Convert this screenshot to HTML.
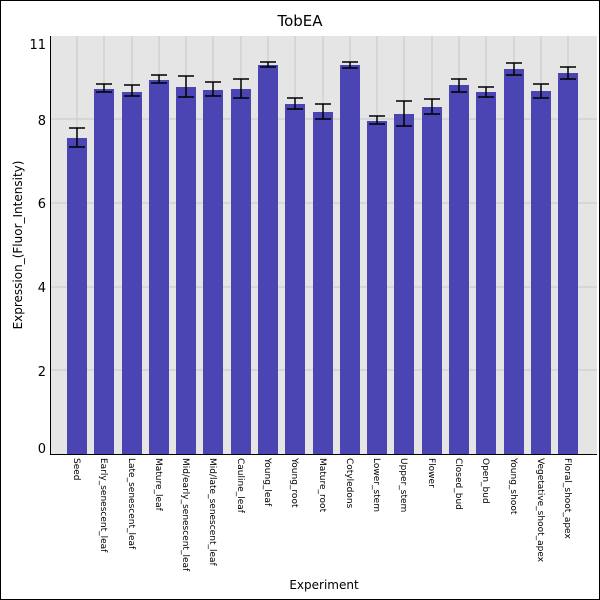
<!DOCTYPE html>
<html><head><style>body{margin:0;background:#fff}svg{display:block;font-family:"DejaVu Sans","Liberation Sans",sans-serif}</style></head><body>
<svg width="600" height="600" viewBox="0 0 600 600" xmlns="http://www.w3.org/2000/svg">
<rect x="0.5" y="0.5" width="599" height="599" fill="#fff" stroke="#000"/>
<text x="300" y="26" font-size="15" text-anchor="middle">TobEA</text>
<rect x="51" y="36" width="546" height="419" fill="#e5e5e5"/>
<g stroke="#c8c8c8" stroke-width="1">
<line x1="51" x2="597" y1="370" y2="370"/><line x1="51" x2="597" y1="287" y2="287"/><line x1="51" x2="597" y1="203" y2="203"/><line x1="51" x2="597" y1="119" y2="119"/>
<line x1="77" x2="77" y1="36" y2="455"/><line x1="104" x2="104" y1="36" y2="455"/><line x1="132" x2="132" y1="36" y2="455"/><line x1="159" x2="159" y1="36" y2="455"/><line x1="186" x2="186" y1="36" y2="455"/><line x1="213" x2="213" y1="36" y2="455"/><line x1="241" x2="241" y1="36" y2="455"/><line x1="268" x2="268" y1="36" y2="455"/><line x1="295" x2="295" y1="36" y2="455"/><line x1="323" x2="323" y1="36" y2="455"/><line x1="350" x2="350" y1="36" y2="455"/><line x1="377" x2="377" y1="36" y2="455"/><line x1="404" x2="404" y1="36" y2="455"/><line x1="432" x2="432" y1="36" y2="455"/><line x1="459" x2="459" y1="36" y2="455"/><line x1="486" x2="486" y1="36" y2="455"/><line x1="514" x2="514" y1="36" y2="455"/><line x1="541" x2="541" y1="36" y2="455"/><line x1="568" x2="568" y1="36" y2="455"/>
</g>
<g fill="#4b44b3">
<rect x="67" y="138" width="20" height="316"/><rect x="94" y="89" width="20" height="365"/><rect x="122" y="92" width="20" height="362"/><rect x="149" y="80" width="20" height="374"/><rect x="176" y="87" width="20" height="367"/><rect x="203" y="90" width="20" height="364"/><rect x="231" y="89" width="20" height="365"/><rect x="258" y="65" width="20" height="389"/><rect x="285" y="104" width="20" height="350"/><rect x="313" y="112" width="20" height="342"/><rect x="340" y="65" width="20" height="389"/><rect x="367" y="121" width="20" height="333"/><rect x="394" y="114" width="20" height="340"/><rect x="422" y="107" width="20" height="347"/><rect x="449" y="85" width="20" height="369"/><rect x="476" y="92" width="20" height="362"/><rect x="504" y="69" width="20" height="385"/><rect x="531" y="91" width="20" height="363"/><rect x="558" y="73" width="20" height="381"/>
</g>
<g stroke="#000" stroke-width="1.5" fill="none">
<path d="M77 128V147M69 128H85M69 147H85"/>
<path d="M104 84V92M96 84H112M96 92H112"/>
<path d="M132 85V96M124 85H140M124 96H140"/>
<path d="M159 75V83M151 75H167M151 83H167"/>
<path d="M186 76V97M178 76H194M178 97H194"/>
<path d="M213 82V96M205 82H221M205 96H221"/>
<path d="M241 79V98M233 79H249M233 98H249"/>
<path d="M268 62V67M260 62H276M260 67H276"/>
<path d="M295 98V109M287 98H303M287 109H303"/>
<path d="M323 104V119M315 104H331M315 119H331"/>
<path d="M350 62V68M342 62H358M342 68H358"/>
<path d="M377 116V124M369 116H385M369 124H385"/>
<path d="M404 101V126M396 101H412M396 126H412"/>
<path d="M432 99V114M424 99H440M424 114H440"/>
<path d="M459 79V92M451 79H467M451 92H467"/>
<path d="M486 87V97M478 87H494M478 97H494"/>
<path d="M514 63V75M506 63H522M506 75H522"/>
<path d="M541 84V98M533 84H549M533 98H549"/>
<path d="M568 67V79M560 67H576M560 79H576"/>
</g>
<line x1="50.5" y1="36" x2="50.5" y2="455" stroke="#000"/>
<line x1="50" y1="454.5" x2="597" y2="454.5" stroke="#000"/>
<g font-size="13" text-anchor="end">
<text x="46" y="49">11</text><text x="46" y="125">8</text><text x="46" y="208">6</text><text x="46" y="292">4</text><text x="46" y="376">2</text><text x="46" y="453">0</text>
</g>
<text transform="translate(22,245) rotate(-90)" font-size="12" text-anchor="middle">Expression_(Fluor_Intensity)</text>
<text x="324" y="589" font-size="12" text-anchor="middle">Experiment</text>
<g font-size="9">
<text transform="translate(74,458) rotate(90)">Seed</text>
<text transform="translate(101,458) rotate(90)">Early_senescent_leaf</text>
<text transform="translate(129,458) rotate(90)">Late_senescent_leaf</text>
<text transform="translate(156,458) rotate(90)">Mature_leaf</text>
<text transform="translate(183,458) rotate(90)">Mid/early_senescent_leaf</text>
<text transform="translate(210,458) rotate(90)">Mid/late_senescent_leaf</text>
<text transform="translate(238,458) rotate(90)">Cauline_leaf</text>
<text transform="translate(265,458) rotate(90)">Young_leaf</text>
<text transform="translate(292,458) rotate(90)">Young_root</text>
<text transform="translate(320,458) rotate(90)">Mature_root</text>
<text transform="translate(347,458) rotate(90)">Cotyledons</text>
<text transform="translate(374,458) rotate(90)">Lower_stem</text>
<text transform="translate(401,458) rotate(90)">Upper_stem</text>
<text transform="translate(429,458) rotate(90)">Flower</text>
<text transform="translate(456,458) rotate(90)">Closed_bud</text>
<text transform="translate(483,458) rotate(90)">Open_bud</text>
<text transform="translate(511,458) rotate(90)">Young_shoot</text>
<text transform="translate(538,458) rotate(90)">Vegetative_shoot_apex</text>
<text transform="translate(565,458) rotate(90)">Floral_shoot_apex</text>
</g>
</svg>
</body></html>
